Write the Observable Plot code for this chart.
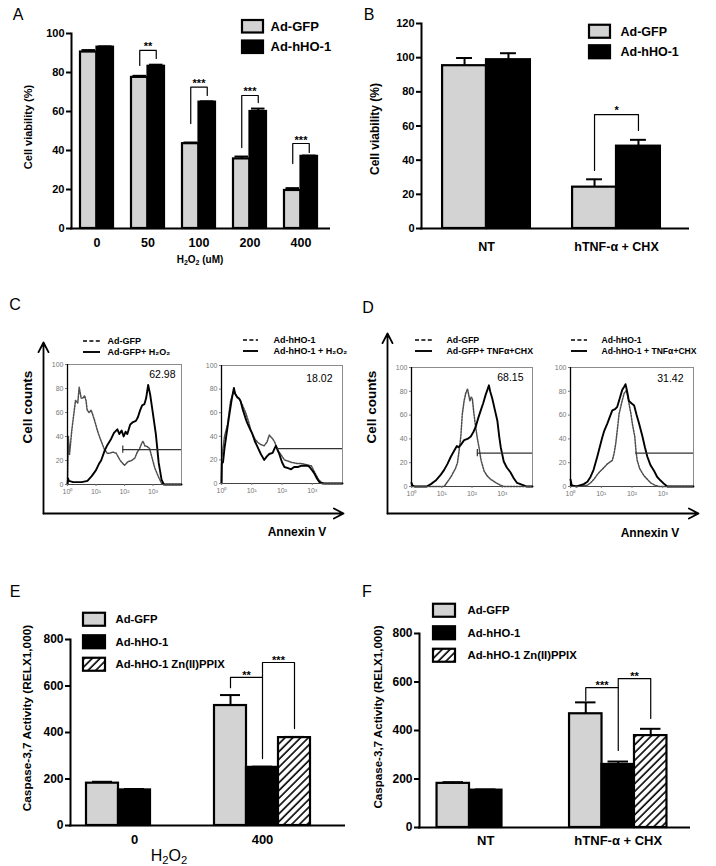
<!DOCTYPE html>
<html><head><meta charset="utf-8">
<script src="https://cdn.jsdelivr.net/npm/d3@7"></script>
<script src="https://cdn.jsdelivr.net/npm/@observablehq/plot@0.6"></script>
<style>
body{margin:0;background:#fff;}
#root{position:relative;width:716px;height:866px;overflow:hidden;background:#fff;font-family:"Liberation Sans",Arial,Helvetica,sans-serif;color:#000;}
sub{font-size:0.7em;vertical-align:-0.25em;line-height:0;}
</style></head>
<body><div id="root"></div>
<script>
// ---------------- DATA ----------------
const seriesAB = ["Ad-GFP", "Ad-hHO-1"];
const groupsA = ["0", "50", "100", "200", "400"];
const gfpA = [90.5, 77.5, 43.5, 35.7, 19.5];
const gfpAErr = [1, 0.8, 0.6, 1.2, 1.2];
const hhoA = [93, 83.2, 64.8, 60, 37];
const hhoAErr = [0.4, 0.8, 0.4, 1.5, 0.4];
const bracketsA = [
  {group: "50", from: "Ad-GFP", to: "Ad-hHO-1", fromY: 83.6, top: 91.3, toY: 87.2, stars: "**", starY: 95},
  {group: "100", from: "Ad-GFP", to: "Ad-hHO-1", fromY: 53.8, top: 72.5, toY: 68.2, stars: "***", starY: 76},
  {group: "200", from: "Ad-GFP", to: "Ad-hHO-1", fromY: 41.5, top: 68.2, toY: 64.6, stars: "***", starY: 71.6},
  {group: "400", from: "Ad-GFP", to: "Ad-hHO-1", fromY: 33.3, top: 43.6, toY: 39, stars: "***", starY: 46.8}
];

const groupsB = ["NT", "hTNF-α + CHX"];
const gfpB = [95.3, 24.2];
const gfpBErr = [4.5, 4.6];
const hhoB = [98.8, 48.2];
const hhoBErr = [3.8, 3.7];
const bracketsB = [
  {group: "hTNF-α + CHX", from: "Ad-GFP", to: "Ad-hHO-1", fromY: 34, top: 66.7, toY: 57.4, stars: "*", starY: 70.8}
];

const seriesEF = ["Ad-GFP", "Ad-hHO-1", "Ad-hHO-1 Zn(II)PPIX"];
const groupsE = ["0", "400"];
const gfpE = [182, 516];
const gfpEErr = [6, 45];
const hhoE = [153, 250];
const hhoEErr = [4, 3];
const znE = [null, 378];
const znEErr = [null, 3];
const bracketsE = [
  {group: "400", from: "Ad-GFP", to: "Ad-hHO-1", fromY: 593, top: 637, toY: 288, stars: "**", starY: 658},
  {group: "400", from: "Ad-hHO-1", to: "Ad-hHO-1 Zn(II)PPIX", fromY: 637, top: 701, toY: 417, stars: "***", starY: 722}
];

const groupsF = ["NT", "hTNF-α + CHX"];
const gfpF = [182, 469];
const gfpFErr = [5, 47];
const hhoF = [154, 260];
const hhoFErr = [3, 12];
const znF = [null, 379];
const znFErr = [null, 28];
const bracketsF = [
  {group: "hTNF-α + CHX", from: "Ad-GFP", to: "Ad-hHO-1", fromY: 524, top: 577, toY: 318, stars: "***", starY: 598},
  {group: "hTNF-α + CHX", from: "Ad-hHO-1", to: "Ad-hHO-1 Zn(II)PPIX", fromY: 577, top: 614, toY: 450, stars: "**", starY: 635}
];

// Flow cytometry histograms: [log10(Annexin V), cell counts]
const cLeftCtrl = [[0,0],[0.03,40],[0.07,25],[0.15,45],[0.28,70],[0.36,68],[0.41,81],[0.48,72],[0.55,72],[0.6,74],[0.65,70],[0.69,62],[0.76,60],[0.83,62],[0.93,55],[1.05,45],[1.12,40],[1.2,35],[1.3,29],[1.4,26],[1.47,26],[1.6,27],[1.71,26],[1.85,20],[2.0,16],[2.12,19],[2.25,20],[2.36,22],[2.45,27],[2.53,30],[2.6,34],[2.65,36],[2.72,32],[2.77,32],[2.88,30],[2.97,22],[3.06,14],[3.18,7],[3.3,1],[3.42,0],[4,0]];
const cLeftTreat = [[0,0],[0.02,5],[0.05,3],[0.2,2],[0.5,2],[0.7,3],[0.85,7],[1.0,12],[1.1,17],[1.18,20],[1.3,28],[1.4,33],[1.53,38],[1.63,43],[1.75,46],[1.82,42],[1.9,45],[1.97,40],[2.04,44],[2.1,42],[2.2,50],[2.3,52],[2.4,53],[2.47,56],[2.55,62],[2.62,66],[2.7,67],[2.76,72],[2.83,83],[2.9,75],[2.98,62],[3.1,42],[3.2,18],[3.3,4],[3.38,0],[4,0]];
const cRightCtrl = [[0,0],[0.01,22],[0.05,30],[0.1,40],[0.2,50],[0.3,70],[0.41,79],[0.5,74],[0.58,72],[0.7,66],[0.8,60],[0.9,52],[0.97,45],[1.1,38],[1.19,35],[1.3,33],[1.41,32],[1.5,35],[1.58,41],[1.65,39],[1.69,38],[1.76,35],[1.86,28],[1.95,25],[2.08,20],[2.2,19],[2.3,18],[2.5,17],[2.63,17],[2.8,16],[2.97,15],[3.05,11],[3.13,7],[3.22,3],[3.3,1],[3.4,0],[4,0]];
const cRightTreat = [[0,0],[0.01,17],[0.05,18],[0.1,30],[0.24,55],[0.33,70],[0.41,81],[0.45,76],[0.52,73],[0.58,72],[0.63,70],[0.7,63],[0.8,55],[0.84,52],[0.91,48],[1.02,42],[1.1,36],[1.19,31],[1.3,25],[1.41,20],[1.5,23],[1.58,25],[1.69,26],[1.76,30],[1.8,32],[1.86,28],[1.91,25],[2.0,18],[2.08,14],[2.2,13],[2.3,12],[2.4,14],[2.52,14],[2.63,15],[2.74,15],[2.85,15],[2.91,14],[3.0,11],[3.08,8],[3.16,4],[3.24,1],[3.35,0],[4,0]];
const dLeftCtrl = [[0,0],[0.8,0],[1.08,0],[1.3,8],[1.45,15],[1.52,20],[1.6,35],[1.63,42],[1.68,61],[1.74,72],[1.79,78],[1.85,82],[1.9,76],[1.93,72],[1.97,75],[2.01,74],[2.06,62],[2.12,50],[2.18,40],[2.23,33],[2.3,22],[2.4,13],[2.5,9],[2.62,6],[2.8,3],[2.95,1],[3.05,0],[4,0]];
const dLeftTreat = [[0,3],[0.03,1],[0.1,0],[0.5,0],[0.64,2],[0.8,5],[0.97,10],[1.08,14],[1.19,19],[1.3,25],[1.41,30],[1.5,34],[1.55,33],[1.63,35],[1.74,39],[1.85,40],[1.96,42],[2.05,46],[2.12,50],[2.2,57],[2.29,64],[2.37,70],[2.45,77],[2.52,82],[2.56,85],[2.6,80],[2.67,74],[2.75,65],[2.84,55],[2.9,42],[2.95,33],[3.05,21],[3.15,16],[3.27,12],[3.38,7],[3.49,3],[3.6,2],[3.71,1],[3.8,0],[4,0]];
const dRightCtrl = [[0,0],[0.54,1],[0.65,3],[0.76,6],[0.9,11],[1.09,16],[1.2,19],[1.36,22],[1.42,28],[1.47,36],[1.52,47],[1.58,61],[1.66,70],[1.74,78],[1.82,81],[1.86,76],[1.9,70],[1.96,62],[2.01,53],[2.09,42],[2.13,30],[2.17,22],[2.25,15],[2.39,9],[2.5,6],[2.61,3],[2.75,1],[2.88,0],[4,0]];
const dRightTreat = [[0,6],[0.04,1],[0.2,0],[0.43,2],[0.55,4],[0.65,8],[0.75,14],[0.87,25],[0.95,33],[1.03,41],[1.1,47],[1.2,53],[1.3,60],[1.36,64],[1.45,65],[1.52,67],[1.6,74],[1.68,81],[1.75,84],[1.79,86],[1.84,80],[1.9,72],[1.98,70],[2.07,68],[2.15,60],[2.23,53],[2.34,42],[2.42,33],[2.5,25],[2.6,18],[2.72,13],[2.82,8],[2.93,5],[3.05,2],[3.15,0],[4,0]];
const gates = {cLeft: {start: 87, level: 29}, cRight: {start: 70, level: 29.5}, dLeft: {start: 150, level: 28}, dRight: {start: 130, level: 28}};
const gatePct = {cLeft: "62.98", cRight: "18.02", dLeft: "68.15", dRight: "31.42"};
const flowTicksY = [0, 20, 40, 60, 80, 100];
const flowTicksX = [1, 10, 100, 1000];
const legendC1 = ["Ad-GFP", "Ad-GFP+ H₂O₂"];
const legendC2 = ["Ad-hHO-1", "Ad-hHO-1 + H₂O₂"];
const legendD1 = ["Ad-GFP", "Ad-GFP+ TNFα+CHX"];
const legendD2 = ["Ad-hHO-1", "Ad-hHO-1 + TNFα+CHX"];
const axisArrows = [{x1: 0, y1: 0, x2: 0, y2: 1}, {x1: 0, y1: 0, x2: 1, y2: 0}];

// ---------------- HELPERS ----------------
const FONT = '"Liberation Sans", Arial, Helvetica, sans-serif';
const GRAY = "#d3d3d3";
const root = document.getElementById("root");
function place(node, left, top) {
  node.style.position = "absolute";
  node.style.left = left + "px";
  node.style.top = top + "px";
  root.appendChild(node);
  return node;
}
function label(html, x, y, {size = 12, weight = "bold", rotate = false} = {}) {
  const d = document.createElement("div");
  d.innerHTML = html;
  d.style.cssText = `position:absolute;left:${x}px;top:${y}px;font-size:${size}px;font-weight:${weight};white-space:nowrap;line-height:1;transform:translate(-50%,-50%)${rotate ? " rotate(-90deg)" : ""};`;
  root.appendChild(d);
}
function hatchDefs(id) {
  return () => {
    const defs = d3.create("svg:defs");
    const p = defs.append("pattern").attr("id", id).attr("patternUnits", "userSpaceOnUse")
      .attr("width", 5.5).attr("height", 5.5).attr("patternTransform", "rotate(45)");
    p.append("rect").attr("width", 5.5).attr("height", 5.5).attr("fill", "white");
    p.append("line").attr("x1", 1).attr("x2", 1).attr("y1", 0).attr("y2", 5.5).attr("stroke", "black").attr("stroke-width", 1.6);
    return defs.node();
  };
}
const baseStyle = {fontFamily: FONT, background: "transparent", overflow: "visible", color: "black"};

function groupedBars(c) {
  const rows = [];
  c.groups.forEach((g, i) => c.series.forEach((s, j) => {
    const v = c.values[j][i];
    if (v != null) rows.push({group: g, series: s, value: v, top: v + c.errors[j][i], fill: c.fills[j]});
  }));
  const legs = c.brackets.flatMap((b, k) => [
    {k, group: b.group, series: b.from, y: b.fromY},
    {k, group: b.group, series: b.from, y: b.top},
    {k, group: b.group, series: b.to, y: b.top},
    {k, group: b.group, series: b.to, y: b.toY}
  ]);
  const marks = [];
  if (c.hatchId) marks.push(hatchDefs(c.hatchId));
  marks.push(
    Plot.barY(rows, {fx: "group", x: "series", y: "value", fill: "fill", stroke: "black", strokeWidth: 2.2}),
    Plot.ruleX(rows, {fx: "group", x: "series", y1: "value", y2: "top", strokeWidth: 2}),
    Plot.tickY(rows, {fx: "group", x: "series", y: "top", strokeWidth: 2, insetLeft: c.capInset, insetRight: c.capInset}),
    Plot.line(legs, {fx: "group", x: "series", y: "y", z: "k", strokeWidth: 1.2}),
    Plot.text(c.brackets, {fx: "group", x: "from", y: "starY", text: "stars", dx: c.starDx, dy: 3, fontSize: 11, fontWeight: "bold"}),
    Plot.axisY({ticks: c.yTicks, tickSize: 5, tickPadding: 2, strokeWidth: 2, fontSize: c.yFont, fontWeight: "bold", label: null}),
    Plot.axisFx({anchor: "bottom", tickSize: 0, tickPadding: c.fxPad, fontSize: c.fxFont, fontWeight: "bold", label: null})
  );
  const svg = Plot.plot({
    width: c.width, height: c.height,
    marginLeft: c.mL, marginRight: c.mR, marginTop: c.mT, marginBottom: c.mB,
    style: baseStyle,
    x: {domain: c.series, paddingInner: 0, paddingOuter: c.padOuter, round: false, axis: null},
    fx: {domain: c.groups, padding: 0, round: false},
    y: {domain: c.yDomain},
    color: {type: "identity"},
    marks
  });
  // continuous axis lines (one plot, not faceted), drawn on top
  const axes = Plot.plot({
    width: c.width, height: c.height,
    marginLeft: c.mL, marginRight: c.mR, marginTop: c.mT, marginBottom: c.mB,
    style: baseStyle,
    y: {domain: c.yDomain, axis: null},
    marks: [
      Plot.ruleY([0], {strokeWidth: 2, insetLeft: -1, insetRight: -c.ruleExt}),
      Plot.frame({anchor: "left", strokeWidth: 2})
    ]
  });
  place(svg, c.left, c.top);
  place(axes, c.left, c.top);
}

function boxLegend(c) {
  const pad = 2;
  const pI = 1 - c.boxH / c.step;
  const marks = [];
  if (c.hatchId) marks.push(hatchDefs(c.hatchId));
  marks.push(
    Plot.cell(c.items, {x: () => "k", y: d => d, fill: (d, i) => c.fills[i], stroke: "black", strokeWidth: 2.2}),
    Plot.axisY({anchor: "right", tickSize: 0, tickPadding: c.gap, fontSize: c.fontSize, fontWeight: "bold", label: null})
  );
  const svg = Plot.plot({
    width: pad + c.boxW + c.textW, height: c.step * c.items.length + 2 * pad,
    marginLeft: pad, marginRight: c.textW, marginTop: pad, marginBottom: pad,
    style: baseStyle,
    x: {domain: ["k"], padding: 0, axis: null},
    y: {domain: c.items, paddingInner: pI, paddingOuter: pI / 2, round: false, axis: null},
    color: {type: "identity"},
    marks
  });
  place(svg, c.left - pad, c.top - pad);
}

function lineLegend(c) {
  const svg = Plot.plot({
    width: c.lineW + c.textW, height: c.step * 2,
    marginLeft: 0, marginRight: c.textW, marginTop: 0, marginBottom: 0,
    style: baseStyle,
    x: {domain: [0, 1], axis: null},
    y: {domain: c.items, type: "point", padding: 0.5, round: false, axis: null},
    marks: [
      Plot.ruleY([c.items[0]], {y: d => d, strokeWidth: 1.4, strokeDasharray: "4,2.4"}),
      Plot.ruleY([c.items[1]], {y: d => d, strokeWidth: 1.9}),
      Plot.axisY({anchor: "right", tickSize: 0, tickPadding: c.gap, fontSize: c.fontSize, fontWeight: "bold", label: null})
    ]
  });
  place(svg, c.left, c.top);
}

const sups = ["⁰", "¹", "²", "³", "⁴"];
function flowPlot(c) {
  const toPts = arr => arr.map(([e, v]) => ({x: 10 ** e, y: v}));
  const g = c.gate;
  const marks = [
    Plot.frame({stroke: "#8c8c8c", strokeWidth: 1}),
    Plot.line(toPts(c.ctrl), {x: "x", y: "y", stroke: "#4d4d4d", strokeWidth: 1.5, strokeDasharray: "1.8,1.2"}),
    Plot.line(toPts(c.treat), {x: "x", y: "y", stroke: "black", strokeWidth: 1.9}),
    Plot.ruleY([g], {y: "level", x1: "start", x2: () => 1e4, stroke: "#333", strokeWidth: 1.2})
  ];
  if (c.gateTick) marks.push(Plot.ruleX([g], {x: "start", y1: d => d.level - 3, y2: d => d.level + 3, stroke: "#333", strokeWidth: 1.2}));
  marks.push(
    Plot.ruleX([1], {stroke: "black", strokeWidth: 1.3}),
    Plot.ruleY([0], {stroke: "#444", strokeWidth: 1}),
    Plot.axisY({ticks: flowTicksY, tickSize: 2, tickPadding: 2, fontSize: 7, color: "#777", label: null}),
    Plot.axisX({ticks: flowTicksX, tickSize: 2, tickPadding: 3, fontSize: 7, color: "#777", tickFormat: d => "10" + sups[Math.round(Math.log10(d))], label: null}),
    Plot.text([c.pct], {text: d => d, frameAnchor: "top-right", lineAnchor: "middle", dx: c.pctDx, dy: c.pctDy, fontSize: 10.5})
  );
  const svg = Plot.plot({
    width: c.width, height: c.height,
    marginLeft: c.mL, marginRight: c.mR, marginTop: c.mT, marginBottom: c.mB,
    style: baseStyle,
    x: {type: "log", domain: [1, 1e4], axis: null},
    y: {domain: [0, 100], axis: null},
    marks
  });
  place(svg, c.left, c.top);
}

function arrowAxes(c) {
  const svg = Plot.plot({
    width: c.width, height: c.height,
    marginLeft: c.mL, marginRight: c.mR, marginTop: c.mT, marginBottom: c.mB,
    style: baseStyle,
    x: {domain: [0, 1], axis: null},
    y: {domain: [0, 1], axis: null},
    marks: [Plot.arrow(axisArrows, {x1: "x1", y1: "y1", x2: "x2", y2: "y2", strokeWidth: 1.8, headLength: 9, headAngle: 55})]
  });
  place(svg, c.left, c.top);
}

// ---------------- PANEL A ----------------
groupedBars({left: 0, top: 0, width: 360, height: 262, mL: 71, mR: 34, mT: 33, mB: 34,
  groups: groupsA, series: seriesAB, values: [gfpA, hhoA], errors: [gfpAErr, hhoAErr], fills: [GRAY, "black"],
  brackets: bracketsA, yDomain: [0, 100], yTicks: [0, 20, 40, 60, 80, 100], padOuter: 0.545, capInset: 1.5,
  starDx: 8.25, ruleExt: 4, yFont: 11, fxFont: 12.5, fxPad: 10});
boxLegend({items: seriesAB, fills: [GRAY, "black"], left: 242, top: 15.75, boxW: 21, step: 20.5, boxH: 12.5, gap: 7, fontSize: 13, textW: 80});
label("A", 18, 15, {size: 16, weight: "normal"});
label("Cell viability (%)", 28, 127, {size: 11, rotate: true});
label("H<sub>2</sub>O<sub>2</sub> (uM)", 200, 260, {size: 10});

// ---------------- PANEL B ----------------
groupedBars({left: 360, top: 0, width: 360, height: 262, mL: 61, mR: 39, mT: 23, mB: 34,
  groups: groupsB, series: seriesAB, values: [gfpB, hhoB], errors: [gfpBErr, hhoBErr], fills: [GRAY, "black"],
  brackets: bracketsB, yDomain: [0, 120], yTicks: [0, 20, 40, 60, 80, 100, 120], padOuter: 0.48, capInset: 14,
  starDx: 22, ruleExt: 8, yFont: 11, fxFont: 12.5, fxPad: 14});
boxLegend({items: seriesAB, fills: [GRAY, "black"], left: 589, top: 20.75, boxW: 21, step: 20.5, boxH: 13, gap: 10, fontSize: 12.5, textW: 80});
label("B", 369, 15, {size: 16, weight: "normal"});
label("Cell viability (%)", 375, 129, {size: 12, rotate: true});

// ---------------- PANEL C ----------------
arrowAxes({left: 0, top: 330, width: 360, height: 200, mL: 43, mR: 17, mT: 12, mB: 17});
flowPlot({left: 40, top: 355, width: 155, height: 150, mL: 27, mR: 14, mT: 9, mB: 21,
  ctrl: cLeftCtrl, treat: cLeftTreat, gate: gates.cLeft, gateTick: true, pct: gatePct.cLeft, pctDx: -6, pctDy: 10});
flowPlot({left: 195, top: 355, width: 160, height: 150, mL: 26, mR: 13, mT: 10, mB: 22,
  ctrl: cRightCtrl, treat: cRightTreat, gate: gates.cRight, gateTick: false, pct: gatePct.cRight, pctDx: -10, pctDy: 13});
lineLegend({items: legendC1, left: 83, top: 334.5, lineW: 17, step: 11, gap: 7, textW: 90, fontSize: 9});
lineLegend({items: legendC2, left: 243, top: 333.5, lineW: 15, step: 11, gap: 15, textW: 100, fontSize: 9});
label("C", 15, 305, {size: 16, weight: "normal"});
label("Cell counts", 28, 407, {size: 13.5, rotate: true});
label("Annexin V", 297, 532, {size: 12});

// ---------------- PANEL D ----------------
arrowAxes({left: 360, top: 325, width: 356, height: 205, mL: 27, mR: 18, mT: 8, mB: 17});
flowPlot({left: 385, top: 355, width: 160, height: 155, mL: 26, mR: 13, mT: 12, mB: 24,
  ctrl: dLeftCtrl, treat: dLeftTreat, gate: gates.dLeft, gateTick: true, pct: gatePct.dLeft, pctDx: -9, pctDy: 10});
flowPlot({left: 545, top: 355, width: 165, height: 155, mL: 25, mR: 17, mT: 12, mB: 24,
  ctrl: dRightCtrl, treat: dRightTreat, gate: gates.dRight, gateTick: false, pct: gatePct.dRight, pctDx: -10, pctDy: 11});
lineLegend({items: legendD1, left: 415, top: 333.5, lineW: 17, step: 11, gap: 14, textW: 110, fontSize: 8.8});
lineLegend({items: legendD2, left: 571, top: 333.5, lineW: 16, step: 11, gap: 14, textW: 115, fontSize: 8.6});
label("D", 368, 308, {size: 16, weight: "normal"});
label("Cell counts", 372, 407, {size: 13.5, rotate: true});
label("Annexin V", 650, 533, {size: 12});

// ---------------- PANEL E ----------------
groupedBars({left: 0, top: 590, width: 360, height: 276, mL: 70, mR: 34, mT: 49, mB: 41,
  groups: groupsE, series: seriesEF, values: [gfpE, hhoE, znE], errors: [gfpEErr, hhoEErr, znEErr],
  fills: [GRAY, "black", "url(#hatchE)"], hatchId: "hatchE",
  brackets: bracketsE, yDomain: [0, 800], yTicks: [0, 200, 400, 600, 800], padOuter: 0.5, capInset: 6,
  starDx: 16, ruleExt: 19, yFont: 12, fxFont: 13, fxPad: 9});
boxLegend({items: seriesEF, fills: [GRAY, "black", "url(#hatchEL)"], hatchId: "hatchEL", left: 83, top: 607.75, boxW: 22, step: 22.5, boxH: 13, gap: 10, fontSize: 11.3, textW: 130});
label("E", 15, 592, {size: 16, weight: "normal"});
label("Caspase-3,7 Activity (RELX1,000)", 28, 718, {size: 11.8, rotate: true});
label("H<sub>2</sub>O<sub>2</sub>", 169, 856, {size: 16, weight: "normal"});

// ---------------- PANEL F ----------------
groupedBars({left: 360, top: 590, width: 356, height: 276, mL: 59, mR: 32, mT: 43, mB: 39,
  groups: groupsF, series: seriesEF, values: [gfpF, hhoF, znF], errors: [gfpFErr, hhoFErr, znFErr],
  fills: [GRAY, "black", "url(#hatchF)"], hatchId: "hatchF",
  brackets: bracketsF, yDomain: [0, 800], yTicks: [0, 200, 400, 600, 800], padOuter: 0.54, capInset: 6,
  starDx: 16.25, ruleExt: 6, yFont: 12, fxFont: 13, fxPad: 8});
boxLegend({items: seriesEF, fills: [GRAY, "black", "url(#hatchFL)"], hatchId: "hatchFL", left: 433, top: 598.75, boxW: 22, step: 22.5, boxH: 13, gap: 12, fontSize: 11.3, textW: 130});
label("F", 367, 592, {size: 16, weight: "normal"});
label("Caspase-3,7 Activity (RELX1,000)", 378, 717, {size: 11.6, rotate: true});
</script>
</body></html>
